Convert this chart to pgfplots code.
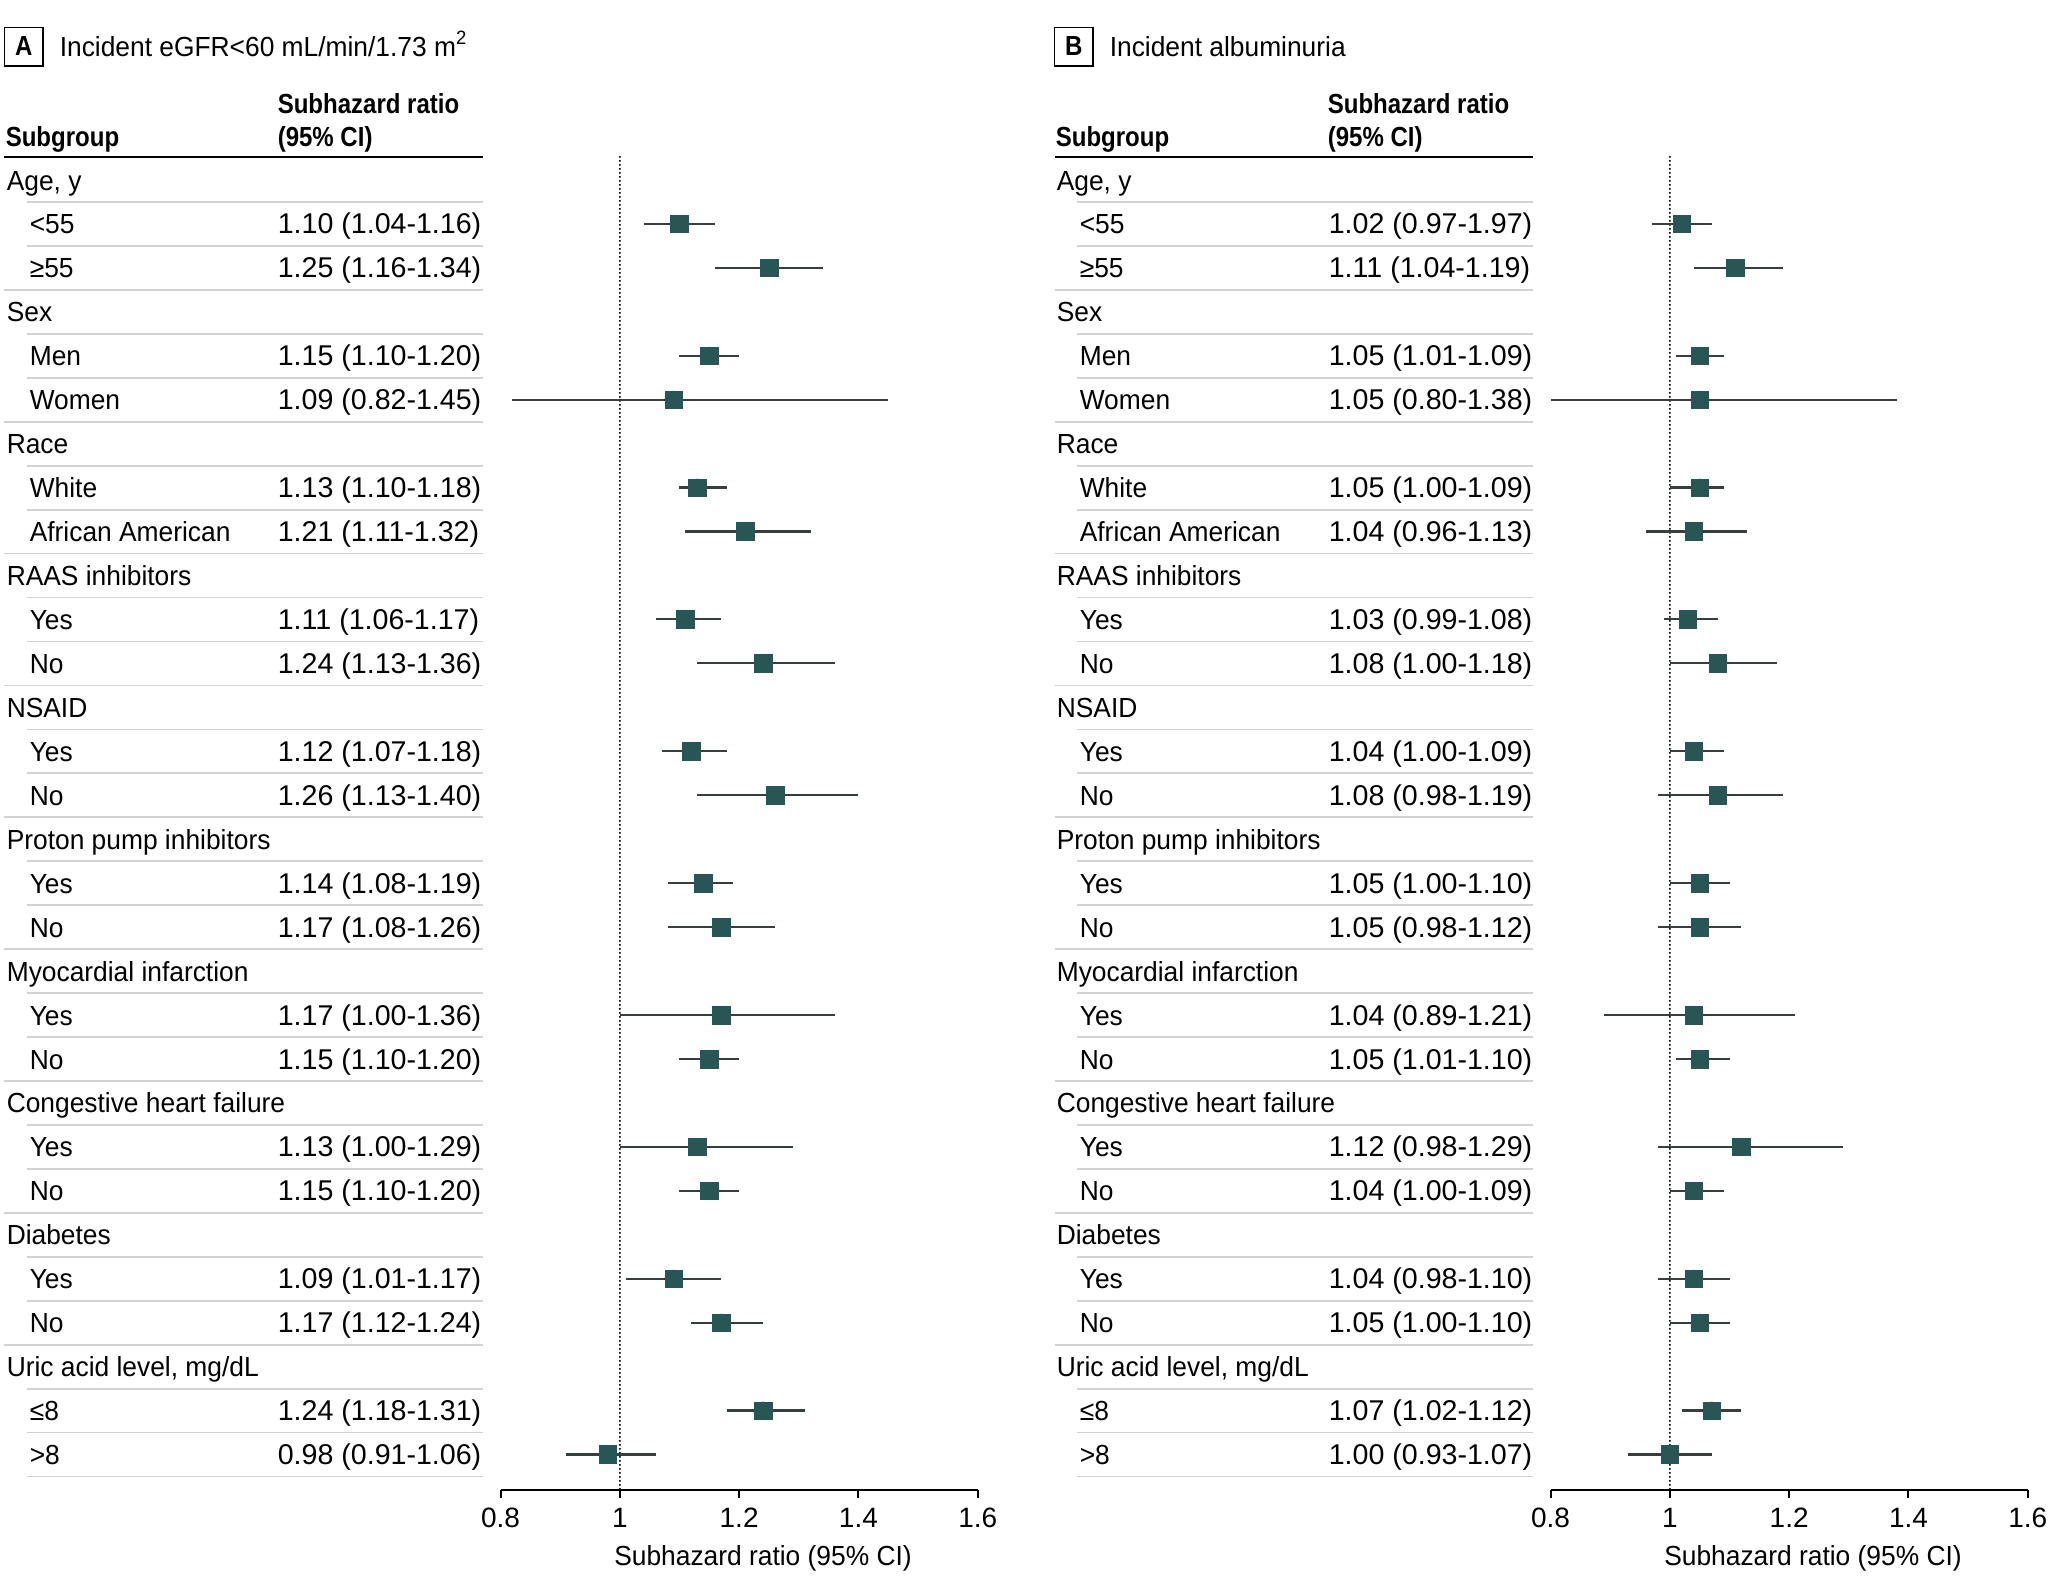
\documentclass[border=0pt]{standalone}
\usepackage{pgfplots}
\pgfplotsset{compat=1.18}
\usepackage{pgfplotstable}
\usepackage{fontspec}
\setmainfont{Liberation Sans}[BoldFeatures={FakeStretch=0.87}]
\newfontfamily\labfont{Liberation Sans}[FakeStretch=0.955]
\definecolor{sq}{RGB}{40,86,84}
\definecolor{ci}{RGB}{55,62,62}
\definecolor{sep}{RGB}{210,210,206}
\newcommand{\fs}{\fontsize{6.9bp}{8bp}\selectfont}
\newcommand{\fl}{\labfont\fontsize{6.9bp}{8bp}\selectfont}
\newcommand{\fv}{\fontsize{7.15bp}{8bp}\selectfont}
\newcommand{\ft}{\fontsize{7.0bp}{8bp}\selectfont}

\pgfplotstableread{
row hr lo hi
2 1.10 1.04 1.16
3 1.25 1.16 1.34
5 1.15 1.10 1.20
6 1.09 0.82 1.45
8 1.13 1.10 1.18
9 1.21 1.11 1.32
11 1.11 1.06 1.17
12 1.24 1.13 1.36
14 1.12 1.07 1.18
15 1.26 1.13 1.40
17 1.14 1.08 1.19
18 1.17 1.08 1.26
20 1.17 1.00 1.36
21 1.15 1.10 1.20
23 1.13 1.00 1.29
24 1.15 1.10 1.20
26 1.09 1.01 1.17
27 1.17 1.12 1.24
29 1.24 1.18 1.31
30 0.98 0.91 1.06
}\dataA

\pgfplotstableread{
row hr lo hi
2 1.02 0.97 1.07
3 1.11 1.04 1.19
5 1.05 1.01 1.09
6 1.05 0.80 1.38
8 1.05 1.00 1.09
9 1.04 0.96 1.13
11 1.03 0.99 1.08
12 1.08 1.00 1.18
14 1.04 1.00 1.09
15 1.08 0.98 1.19
17 1.05 1.00 1.10
18 1.05 0.98 1.12
20 1.04 0.89 1.21
21 1.05 1.01 1.10
23 1.12 0.98 1.29
24 1.04 1.00 1.09
26 1.04 0.98 1.10
27 1.05 1.00 1.10
29 1.07 1.02 1.12
30 1.00 0.93 1.07
}\dataB

\pgfplotsset{forest/.style={
  x=149.125bp, y=10.9875bp, y dir=reverse,
  xmin=0.8, xmax=1.6, ymin=0.477, ymax=30.81,
  axis x line*=bottom, axis y line=none,
  xtick={0.8,1,1.2,1.4,1.6}, xticklabels={0.8,1,1.2,1.4,1.6},
  ytick=\empty,
  tick align=outside, xtick pos=left,
  major tick length=2bp,
  every tick/.style={black, line width=0.5bp},
  x axis line style={line width=0.5bp},
  xticklabel style={font=\ft, yshift=1bp},
  clip=false,
  anchor=south west,
}}

\newcommand{\forestplot}[1]{%
  \addplot[black, line width=0.55bp, line cap=round, dash pattern=on 0bp off 1bp] coordinates {(1,0.477) (1,30.81)};
  \addplot[only marks, mark=none, error bars/.cd, x dir=both, x explicit, error mark=none,
    error bar style={draw=ci, line width=0.55bp}]
    table[x=hr, y=row, x error plus expr=\thisrow{hi}-\thisrow{hr}, x error minus expr=\thisrow{hr}-\thisrow{lo}] {#1};
  \addplot[only marks, mark=square*, mark size=2.2bp, mark options={fill=sq, draw=sq, line width=0.1bp}]
    table[x=hr, y=row] {#1};
}

\newcommand{\panelframe}[3]{%
  \begin{scope}[xshift=#1]
  \node[draw, line width=0.4bp, minimum width=9.6bp, minimum height=9.6bp, inner sep=0, font=\fs\bfseries] at (23.8,46.5) {#2};
  \node[anchor=base west, inner sep=0, font=\fl] at (59,56.5) {#3};
  \node[anchor=base west, inner sep=0, font=\fs\bfseries] at (5,146) {Subgroup};
  \node[anchor=base west, inner sep=0, font=\fs\bfseries] at (277,113) {Subhazard ratio};
  \node[anchor=base west, inner sep=0, font=\fs\bfseries] at (277,146) {(95\% CI)};
  \draw[black, line width=0.7bp] (4.5,157) -- (483,157);
  \foreach \i in {3,6,9,12,15,18,21,24,27}
    \draw[sep, line width=0.43bp] (4.5,{202+43.95*(\i-1)}) -- (483,{202+43.95*(\i-1)});
  \foreach \i in {1,2,4,5,7,8,10,11,13,14,16,17,19,20,22,23,25,26,28,29,30}
    \draw[sep, line width=0.43bp] (27,{202+43.95*(\i-1)}) -- (483,{202+43.95*(\i-1)});
  \foreach \i/\t in {1/{Age, y},4/Sex,7/Race,10/RAAS inhibitors,13/NSAID,16/Proton pump inhibitors,19/Myocardial infarction,22/Congestive heart failure,25/Diabetes,28/{Uric acid level, mg/dL}}
    \node[anchor=base west, inner sep=0, font=\fl] at (6,{190+43.95*(\i-1)}) {\t};
  \foreach \i/\t in {2/<55,3/≥55,5/Men,6/Women,8/White,9/African American,11/Yes,12/No,14/Yes,15/No,17/Yes,18/No,20/Yes,21/No,23/Yes,24/No,26/Yes,27/No,29/≤8,30/>8}
    \node[anchor=base west, inner sep=0, font=\fl] at (29,{190+43.95*(\i-1)}) {\t};
  \node[anchor=base, inner sep=0, font=\fl] at (763,1565) {Subhazard ratio (95\% CI)};
  \end{scope}
}

\begin{document}
\begin{tikzpicture}
\begin{axis}[forest, at={(125.125bp,-372.5bp)}]
\forestplot{\dataA}
\end{axis}
\begin{axis}[forest, at={(387.625bp,-372.5bp)}]
\forestplot{\dataB}
\end{axis}
\begin{scope}[x=0.25bp, y=-0.25bp]
\panelframe{0bp}{A}{Incident eGFR<60 mL/min/1.73 m\textsuperscript{2}}
\panelframe{262.5bp}{B}{Incident albuminuria}
\foreach \i/\v in {2/1.10 (1.04-1.16),3/1.25 (1.16-1.34),5/1.15 (1.10-1.20),6/1.09 (0.82-1.45),8/1.13 (1.10-1.18),9/1.21 (1.11-1.32),11/1.11 (1.06-1.17),12/1.24 (1.13-1.36),14/1.12 (1.07-1.18),15/1.26 (1.13-1.40),17/1.14 (1.08-1.19),18/1.17 (1.08-1.26),20/1.17 (1.00-1.36),21/1.15 (1.10-1.20),23/1.13 (1.00-1.29),24/1.15 (1.10-1.20),26/1.09 (1.01-1.17),27/1.17 (1.12-1.24),29/1.24 (1.18-1.31),30/0.98 (0.91-1.06)}
  \node[anchor=base west, inner sep=0, font=\fv] at (277,{190+43.95*(\i-1)}) {\v};
\foreach \i/\v in {2/1.02 (0.97-1.97),3/1.11 (1.04-1.19),5/1.05 (1.01-1.09),6/1.05 (0.80-1.38),8/1.05 (1.00-1.09),9/1.04 (0.96-1.13),11/1.03 (0.99-1.08),12/1.08 (1.00-1.18),14/1.04 (1.00-1.09),15/1.08 (0.98-1.19),17/1.05 (1.00-1.10),18/1.05 (0.98-1.12),20/1.04 (0.89-1.21),21/1.05 (1.01-1.10),23/1.12 (0.98-1.29),24/1.04 (1.00-1.09),26/1.04 (0.98-1.10),27/1.05 (1.00-1.10),29/1.07 (1.02-1.12),30/1.00 (0.93-1.07)}
  \node[anchor=base west, inner sep=0, font=\fv] at (1328,{190+43.95*(\i-1)}) {\v};
\pgfresetboundingbox
\path[use as bounding box] (0,0) rectangle (2048,1592);
\end{scope}
\end{tikzpicture}
\end{document}
